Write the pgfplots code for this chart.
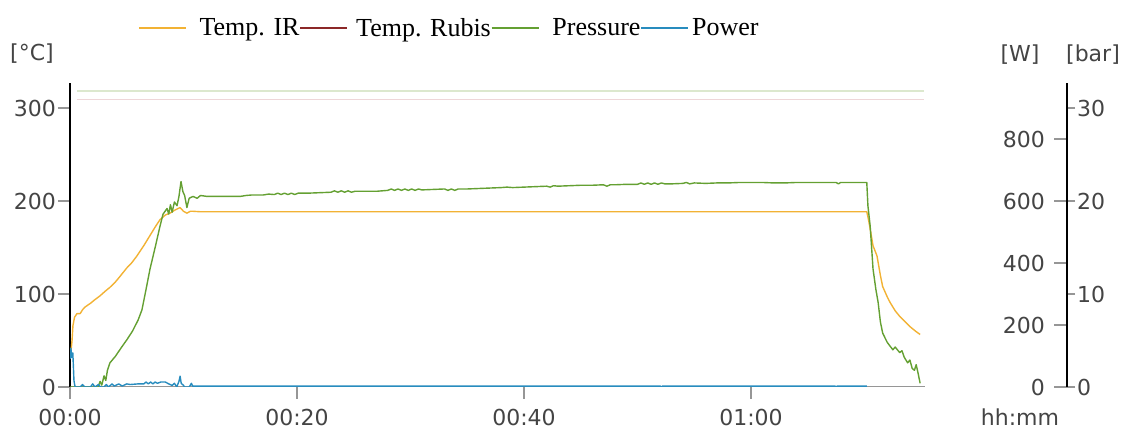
\documentclass[border=0pt]{standalone}
\usepackage{pgfplots}
\pgfplotsset{compat=1.18}
\usepackage{fontspec}
\setmainfont{DejaVu Sans}
\newfontfamily\legfont{Liberation Serif}
\newfontfamily\tickfont{DejaVu Sans}
\definecolor{cIR}{RGB}{242,178,52}
\definecolor{cRub}{RGB}{140,40,40}
\definecolor{cPr}{RGB}{100,160,50}
\definecolor{cPw}{RGB}{40,140,190}
\definecolor{tickgray}{RGB}{68,68,68}
\definecolor{axgray}{RGB}{150,150,150}
\definecolor{paleG}{RGB}{220,232,206}
\definecolor{paleR}{RGB}{238,214,216}
\newcommand{\tf}{\tickfont\fontsize{22}{24}\selectfont}
\begin{document}
\begin{tikzpicture}
\useasboundingbox (0pt,0pt) rectangle (1122pt,430pt);
% ---------------- main axis (deg C) ----------------
\begin{axis}[
  at={(70pt,43pt)}, anchor=south west, scale only axis,
  width=855pt, height=304pt,
  xmin=0, xmax=75.33, ymin=0, ymax=327,
  axis x line*=bottom, axis y line*=left,
  x axis line style={-, draw=axgray, line width=1pt},
  y axis line style={-, draw=black, line width=2.6pt},
  tick align=outside, major tick length=12pt,
  xtick style={color=axgray, line width=1.2pt},
  ytick style={color=axgray, line width=1.2pt},
  xtick={0,20,40,60}, xticklabels={00:00,00:20,00:40,01:00},
  ytick={0,100,200,300},
  /pgf/number format/assume math mode=true,
  ticklabel style={font=\tf, text=tickgray, inner sep=2pt},
  xticklabel style={yshift=-8pt},
  legend columns=4,
  legend style={at={(0.0795,1.181)}, anchor=west, draw=none, fill=none,
    inner sep=0pt, outer sep=0pt, column sep=0pt,
    font=\legfont\fontsize{26}{28}\selectfont, nodes={inner sep=0pt}},
  legend cell align=left,
  legend image code/.code={\draw[#1, line width=1.6pt] (0pt,0pt) -- (47pt,0pt);},
  every axis plot/.append style={no markers, line join=round},
]
\addplot[paleG, line width=1.6pt, forget plot] coordinates {(0.6,318.6) (75.2,318.6)};
\addplot[paleR, line width=1.6pt, forget plot] coordinates {(0.6,309.4) (75.2,309.4)};
\addplot[cIR, line width=1.4pt] coordinates {
(0,37) (0.1,40) (0.18,50) (0.26,66) (0.4,75) (0.62,79) (0.9,79) (1.1,83) (1.32,86)
(1.8,90) (2.2,94) (2.64,98) (3.1,103) (3.5,107) (4.0,113) (4.41,119) (5.0,128)
(5.4,133) (5.9,141) (6.5,152) (7.05,163) (7.5,172) (7.93,180) (8.4,185) (8.81,187)
(9.2,190) (9.69,193) (10.0,189) (10.3,187) (10.6,189) (10.84,189) (11.5,188.5)
(30,188.5) (50,188.5) (70.2,188.5) (70.35,180) (70.5,170) (70.75,152) (71.1,141)
(71.4,120) (71.6,108) (72.0,97) (72.25,91) (72.7,82) (73.1,76) (73.6,70) (74.0,65)
(74.5,60) (74.9,56.5)};
\addlegendentry{\hspace{13pt}Temp. IR}
\addlegendimage{cRub}
\addlegendentry{\hspace{8pt}Temp. Rubis\hspace{15pt}}
\addlegendimage{cPr}
\addlegendentry{\hspace{13pt}Pressure\hspace{19pt}}
\addlegendimage{cPw}
\addlegendentry{\hspace{3pt}Power}
\end{axis}
% ---------------- pressure axis (bar) ----------------
\begin{axis}[
  at={(70pt,43pt)}, anchor=south west, scale only axis,
  width=997pt, height=304pt,
  xmin=0, xmax=87.84, ymin=0, ymax=32.7,
  hide x axis, axis y line*=right,
  y axis line style={-, draw=black, line width=2.6pt},
  tick align=outside, major tick length=8pt,
  ytick style={color=axgray, line width=1.2pt},
  ytick={0,10,20,30},
  /pgf/number format/assume math mode=true,
  yticklabel style={font=\tf, text=tickgray, inner sep=2pt},
  every axis plot/.append style={no markers, line join=round},
]
\addplot[cPr, line width=1.4pt] coordinates {
(0,0) (2.47,0) (2.65,0.6) (2.8,0.2) (3.0,1.2) (3.15,0.7) (3.3,1.8) (3.52,2.6) (4.0,3.3)
(4.5,4.2) (5.02,5.1) (5.5,6.0) (6.0,7.2) (6.34,8.3) (6.7,10.5) (7.05,12.7) (7.5,15.0)
(7.93,17.3) (8.2,18.6) (8.55,19.2) (8.7,18.6) (8.85,19.6) (9.0,18.8) (9.2,19.9)
(9.43,19.5) (9.6,20.5) (9.78,22.1) (9.95,21.0) (10.1,20.6) (10.3,19.3) (10.5,20.3)
(10.84,20.5) (11.2,20.3) (11.5,20.6) (12.07,20.5)
(13,20.5) (14,20.5) (15,20.5) (15.5,20.6) (16,20.65) (17,20.65) (17.5,20.75) (18,20.7)
(18.3,20.85) (18.6,20.7) (18.9,20.85) (19.2,20.7) (19.5,20.85) (19.8,20.7) (20.1,20.85)
(20.5,20.85) (21,20.85) (22,20.9) (23,20.95) (23.3,21.1) (23.6,20.95) (23.9,21.1)
(24.2,20.95) (24.5,21.1) (24.8,20.95) (25.1,21.05) (26,21.05) (27,21.05) (28,21.15)
(28.3,21.3) (28.6,21.15) (28.9,21.3) (29.2,21.15) (29.5,21.3) (29.8,21.15) (30.1,21.3)
(30.4,21.15) (30.7,21.3) (31,21.2) (32,21.25) (33,21.3) (33.3,21.15) (33.6,21.3)
(33.9,21.15) (34.2,21.3) (35,21.3) (36,21.35) (37,21.4) (38,21.45) (38.5,21.5)
(39,21.45) (40,21.5) (41,21.55) (42,21.6) (42.3,21.5) (42.6,21.65) (43,21.6) (44,21.65)
(45,21.7) (46,21.7) (47,21.75) (47.3,21.6) (47.6,21.75) (48,21.75) (49,21.8) (50,21.8)
(50.3,21.95) (50.6,21.8) (50.9,21.95) (51.2,21.8) (51.5,21.95) (51.8,21.8) (52.1,21.95)
(52.4,21.85) (53,21.85) (54,21.9) (54.3,22.0) (54.6,21.85) (55,21.95) (56,21.9)
(57,21.95) (58,21.95) (59,22.0) (60,22.0) (61,22.0) (62,21.95) (63,21.95) (64,22.0)
(65,22.0) (66,22.0) (67,22.0) (67.5,22.0) (67.7,21.85) (67.9,22.0) (68.5,22.0) (69,22.0)
(70.2,22.0) (70.3,19.5) (70.5,17.3) (70.75,12.7) (71.0,10.5) (71.2,9.1) (71.4,7.0)
(71.6,5.8) (72.0,4.8) (72.5,4.0) (72.7,4.3) (73.1,3.7) (73.3,3.9) (73.5,3.2) (73.8,2.6)
(74.0,2.9) (74.2,2.0) (74.4,1.8) (74.55,2.4) (74.7,1.6) (74.9,0.4)};
\end{axis}
% ---------------- power axis (W) ----------------
\begin{axis}[
  at={(70pt,43pt)}, anchor=south west, scale only axis,
  width=997pt, height=304pt,
  xmin=0, xmax=87.84, ymin=0, ymax=981,
  hide x axis, axis y line*=right,
  y axis line style={-, draw=black, line width=2.6pt},
  tick align=inside, major tick length=13pt,
  ytick style={color=axgray, line width=1.2pt},
  ytick={0,200,400,600,800},
  /pgf/number format/assume math mode=true,
  yticklabel style={font=\tf, text=tickgray, anchor=east, inner sep=0pt, xshift=-22pt},
  every axis plot/.append style={no markers, line join=round},
]
\addplot[cPw, line width=1.4pt] coordinates {
(0,90) (0.08,125) (0.15,95) (0.25,110) (0.35,20) (0.45,0) (0.9,0) (1.1,8) (1.3,0)
(1.8,0) (2.0,10) (2.2,0) (2.5,8) (2.7,0) (3.0,0) (3.2,8) (3.4,0) (3.7,10) (3.9,3)
(4.3,10) (4.6,3) (5.0,10) (5.3,8) (6.0,10) (6.5,10) (6.7,16) (6.9,10) (7.1,16) (7.3,10)
(7.5,16) (7.7,12) (8.0,16) (8.4,16) (8.7,10) (9.0,5) (9.2,12) (9.4,0) (9.6,18) (9.7,35)
(9.8,12) (10.0,5) (10.1,0) (10.5,0) (10.7,12) (10.8,3) (11,3) (30,3) (52.0,3) (52.1,0)
(52.2,3) (67.4,3) (67.5,0) (67.6,3) (70.2,3)};
\end{axis}
% ---------------- unit labels ----------------
\node[font=\tf, text=tickgray] at (32pt,376pt) {[°C]};
\node[font=\tf, text=tickgray] at (1020pt,375pt) {[W]};
\node[font=\tf, text=tickgray] at (1093pt,375pt) {[bar]};
\node[font=\tf, text=tickgray] at (1020pt,13pt) {hh:mm};
\end{tikzpicture}
\end{document}
